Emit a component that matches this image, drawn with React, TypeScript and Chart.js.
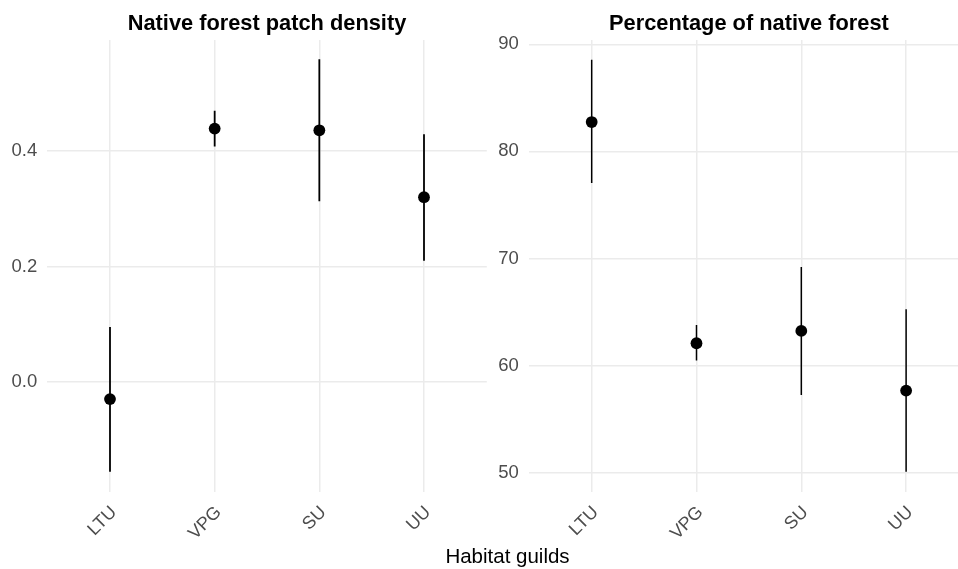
import React, { useEffect, useRef } from "react";
import { Chart, registerables } from "chart.js";
Chart.register(...registerables);

const categories = ["LTU", "VPG", "SU", "UU"];
const densityMean = [-0.03, 0.439, 0.436, 0.32];
const densityLow = [-0.156, 0.408, 0.313, 0.21];
const densityHigh = [0.095, 0.47, 0.559, 0.429];
const percentMean = [82.74, 62.09, 63.24, 57.67];
const percentLow = [77.05, 60.47, 57.26, 50.1];
const percentHigh = [88.56, 63.8, 69.2, 65.27];
const densityTicks = [0.0, 0.2, 0.4];
const percentTicks = [50, 60, 70, 80, 90];

const FONT = "'Liberation Sans', Arial, sans-serif";
const GRID = "#ebebeb";
const TICK = "#4d4d4d";

function makeConfig(p: {
  title: string;
  mean: number[];
  low: number[];
  high: number[];
  yTicks: number[];
  yMin: number;
  yMax: number;
  xMin: number;
  xMax: number;
  yWidth: number;
  padRight: number;
  barWidth: number;
  fmt: (v: number) => string;
  xLabel?: string;
}) {
  const xs = categories.map((_, i) => i + 1);
  const datasets: any[] = [
    {
      type: "scatter",
      data: xs.map((x, i) => ({ x, y: p.mean[i] })),
      backgroundColor: "#000",
      borderWidth: 0,
      pointRadius: 5.9,
      pointHoverRadius: 5.9,
    },
  ];
  xs.forEach((x, i) => {
    datasets.push({
      type: "line",
      data: [
        { x, y: p.low[i] },
        { x, y: p.high[i] },
      ],
      borderColor: "#000",
      borderWidth: p.barWidth,
      pointRadius: 0,
      fill: false,
    });
  });

  const titlePlugin = {
    id: "panelTitle",
    afterDraw(chart: any) {
      const ctx = chart.ctx;
      const cx = chart.scales.x.getPixelForValue(2.5);
      ctx.save();
      ctx.font = `bold 21.8px ${FONT}`;
      ctx.fillStyle = "#000";
      ctx.textAlign = "center";
      ctx.textBaseline = "alphabetic";
      ctx.fillText(p.title, cx, 29.5);
      if (p.xLabel) {
        ctx.font = `20.5px ${FONT}`;
        ctx.fillText(p.xLabel, 507.5, 563);
      }
      ctx.restore();
    },
  };

  return {
    type: "scatter",
    data: { datasets },
    plugins: [titlePlugin],
    options: {
      animation: false,
      responsive: false,
      events: [],
      layout: {
        autoPadding: false,
        padding: { top: 40, right: p.padRight, left: 0, bottom: 0 },
      },
      plugins: {
        legend: { display: false },
        tooltip: { enabled: false },
        title: { display: false },
      },
      scales: {
        x: {
          type: "linear",
          min: p.xMin,
          max: p.xMax,
          afterBuildTicks: (s: any) => {
            s.ticks = xs.map((v) => ({ value: v }));
          },
          afterFit: (s: any) => {
            s.height = 77;
          },
          border: { display: false },
          grid: { color: GRID, lineWidth: 1.5, drawTicks: false },
          ticks: {
            autoSkip: false,
            minRotation: 45,
            maxRotation: 45,
            padding: 10,
            labelOffset: 4,
            color: TICK,
            font: { family: FONT, size: 18 },
            callback: (v: number) => categories[Math.round(v) - 1] ?? "",
          },
        },
        y: {
          type: "linear",
          min: p.yMin,
          max: p.yMax,
          afterBuildTicks: (s: any) => {
            s.ticks = p.yTicks.map((v) => ({ value: v }));
          },
          afterFit: (s: any) => {
            s.width = p.yWidth;
          },
          border: { display: false },
          grid: { color: GRID, lineWidth: 1.5, drawTicks: false },
          ticks: {
            padding: 10,
            color: TICK,
            font: { family: FONT, size: 18.5 },
            callback: (v: number) => p.fmt(v),
          },
        },
      },
    },
  };
}

export default function App() {
  const leftRef = useRef<HTMLCanvasElement>(null);
  const rightRef = useRef<HTMLCanvasElement>(null);

  useEffect(() => {
    document.body.style.margin = "0";
    const right = new Chart(
      rightRef.current as HTMLCanvasElement,
      makeConfig({
        title: "Percentage of native forest",
        mean: percentMean,
        low: percentLow,
        high: percentHigh,
        yTicks: percentTicks,
        yMin: 48.2,
        yMax: 90.4,
        xMin: 0.4,
        xMax: 4.495,
        yWidth: 528.8,
        padRight: 0,
        barWidth: 1.5,
        fmt: (v) => String(Math.round(v)),
        xLabel: "Habitat guilds",
      }) as any
    );
    const left = new Chart(
      leftRef.current as HTMLCanvasElement,
      makeConfig({
        title: "Native forest patch density",
        mean: densityMean,
        low: densityLow,
        high: densityHigh,
        yTicks: densityTicks,
        yMin: -0.191,
        yMax: 0.5925,
        xMin: 0.4,
        xMax: 4.6,
        yWidth: 47.2,
        padRight: 1.2,
        barWidth: 1.8,
        fmt: (v) => v.toFixed(1),
      }) as any
    );
    return () => {
      left.destroy();
      right.destroy();
    };
  }, []);

  return (
    <div
      style={{
        position: "fixed",
        left: 0,
        top: 0,
        width: 958,
        height: 569,
        background: "#fff",
      }}
    >
      <canvas
        ref={rightRef}
        width={958}
        height={569}
        style={{ position: "absolute", left: 0, top: 0, display: "block" }}
      />
      <canvas
        ref={leftRef}
        width={488}
        height={569}
        style={{ position: "absolute", left: 0, top: 0, display: "block" }}
      />
    </div>
  );
}
